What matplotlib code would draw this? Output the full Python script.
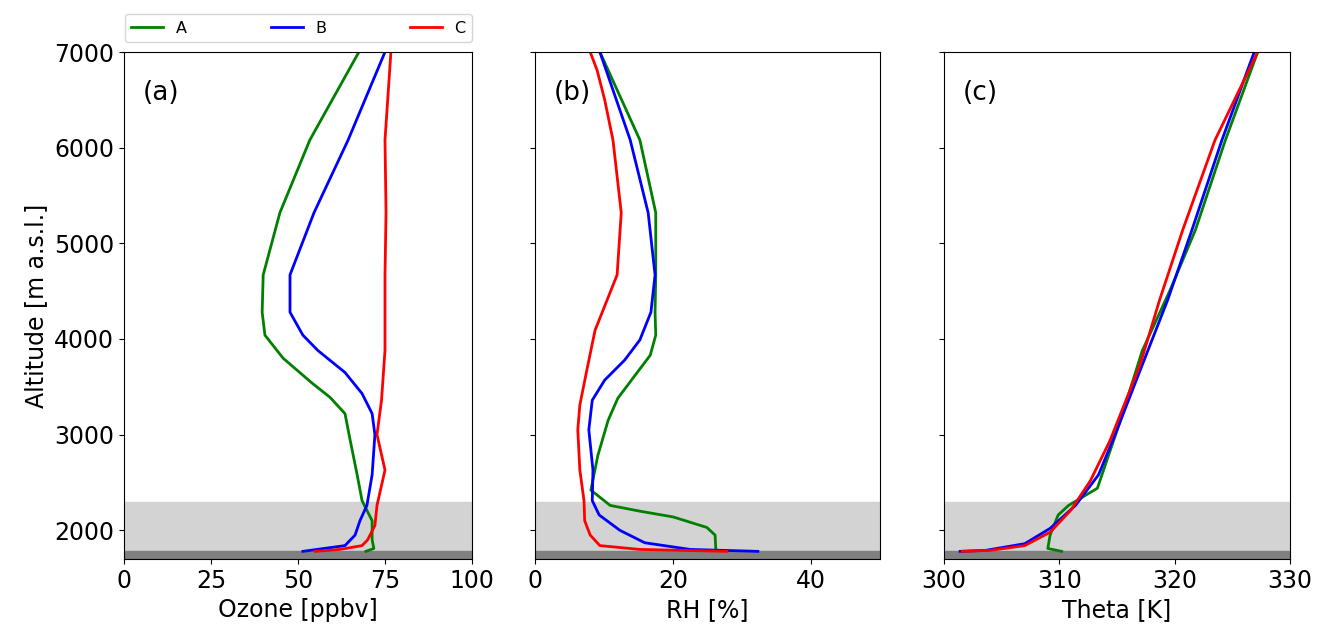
import numpy as np
import matplotlib
matplotlib.use('Agg')
import matplotlib.pyplot as plt

# ── Data ──────────────────────────────────────────────────────────────────────
oz_A_alt = [7000, 6080, 5320, 4670, 4280, 4040, 3800, 3540, 3390, 3220, 2940, 2580, 2310, 2100, 1900, 1810, 1780]
oz_A_val = [67.5, 53.4, 44.8, 40.0, 39.7, 40.5, 45.7, 54.0, 59.2, 63.5, 65.0, 67.0, 68.4, 71.3, 71.3, 71.8, 69.5]
oz_B_alt = [7000, 6080, 5320, 4670, 4280, 4040, 3880, 3650, 3430, 3220, 3000, 2580, 2260, 2100, 1950, 1840, 1780]
oz_B_val = [75.0, 64.4, 54.6, 47.7, 47.7, 51.4, 55.7, 63.5, 68.4, 71.3, 72.1, 71.3, 69.8, 67.8, 66.4, 63.5, 51.4]
oz_C_alt = [7000, 6080, 5320, 4670, 4280, 3880, 3360, 3000, 2630, 2260, 2050, 1900, 1840, 1800, 1780]
oz_C_val = [76.7, 75.0, 75.3, 75.0, 75.0, 75.0, 74.0, 72.7, 75.0, 72.7, 72.1, 70.0, 68.4, 62.0, 55.0]

rh_A_alt = [7000, 6080, 5320, 4670, 4280, 4040, 3830, 3620, 3380, 3150, 2780, 2420, 2260, 2200, 2140, 2030, 1950, 1810, 1790]
rh_A_val = [9.4, 15.2, 17.5, 17.5, 17.4, 17.5, 16.7, 14.5, 12.0, 10.6, 9.1, 8.1, 10.9, 15.2, 20.0, 24.9, 26.1, 26.2, 26.2]
rh_B_alt = [7000, 6080, 5320, 4670, 4280, 3990, 3780, 3570, 3360, 3050, 2630, 2310, 2160, 2000, 1870, 1800, 1780]
rh_B_val = [9.4, 13.8, 16.4, 17.4, 16.8, 15.2, 13.0, 10.1, 8.3, 7.8, 8.4, 8.3, 9.3, 12.3, 15.9, 22.5, 32.3]
rh_C_alt = [7000, 6810, 6500, 6080, 5320, 4670, 4090, 3670, 3310, 3050, 2630, 2310, 2100, 1950, 1840, 1800, 1780]
rh_C_val = [8.0, 9.0, 10.1, 11.3, 12.5, 11.9, 8.7, 7.5, 6.5, 6.2, 6.5, 7.1, 7.2, 8.0, 9.4, 15.2, 27.8]

th_A_alt = [7000, 6080, 5140, 4510, 3880, 3150, 2440, 2260, 2160, 1950, 1810, 1780]
th_A_val = [327.2, 324.4, 321.8, 319.6, 317.2, 315.3, 313.3, 310.8, 309.9, 309.2, 309.0, 310.2]
th_B_alt = [7000, 6080, 5140, 4410, 3670, 3050, 2580, 2260, 2020, 1860, 1790, 1780]
th_B_val = [326.9, 324.1, 321.5, 319.4, 317.0, 315.0, 313.4, 311.4, 309.2, 307.0, 303.6, 301.4]
th_C_alt = [7000, 6080, 5140, 4410, 3730, 2940, 2520, 2210, 1980, 1840, 1790, 1780]
th_C_val = [327.2, 323.5, 320.7, 318.7, 317.0, 314.4, 312.7, 311.0, 309.2, 307.0, 304.0, 301.6]

panels = [
    ('(a)', 'Ozone [ppbv]', (0, 100), [0, 25, 50, 75, 100],
     [(oz_A_val, oz_A_alt), (oz_B_val, oz_B_alt), (oz_C_val, oz_C_alt)]),
    ('(b)', 'RH [%]', (0, 50), [0, 20, 40],
     [(rh_A_val, rh_A_alt), (rh_B_val, rh_B_alt), (rh_C_val, rh_C_alt)]),
    ('(c)', 'Theta [K]', (300, 330), [300, 310, 320, 330],
     [(th_A_val, th_A_alt), (th_B_val, th_B_alt), (th_C_val, th_C_alt)]),
]
labels = ['A', 'B', 'C']
colors = ['green', 'blue', 'red']

# ── Figure ────────────────────────────────────────────────────────────────────
W, H = 1331, 634
fig = plt.figure(figsize=(W / 100, H / 100), dpi=100)
lefts = [124, 535, 944]
rights = [472, 880, 1290]
top, bottom = 52, 559

for i, (tag, xlabel, xlim, xticks, series) in enumerate(panels):
    ax = fig.add_axes([lefts[i] / W, 1 - bottom / H,
                       (rights[i] - lefts[i]) / W, (bottom - top) / H])
    ax.axhspan(1700, 2300, color='lightgray', zorder=0)
    ax.axhspan(1700, 1780, color='gray', zorder=0.5)
    for (x, y), lab, c in zip(series, labels, colors):
        ax.plot(x, y, color=c, lw=2, label=lab, zorder=2)
    ax.set_xlim(*xlim)
    ax.set_ylim(1700, 7000)
    ax.set_xticks(xticks)
    ax.set_yticks(range(2000, 7001, 1000))
    ax.tick_params(labelsize=17)
    ax.set_xlabel(xlabel, fontsize=17)
    ax.text(0.055, 0.92, tag, transform=ax.transAxes, fontsize=19, va='center')
    if i == 0:
        ax.set_ylabel('Altitude [m a.s.l.]', fontsize=17)
        handles, labs = ax.get_legend_handles_labels()
    else:
        ax.set_yticklabels([])

fig.legend(handles, labs, ncol=3, fontsize=11.5, loc='lower left',
           bbox_to_anchor=(125 / W, 1 - 42 / H, (472 - 125) / W, 36 / H),
           mode='expand', borderaxespad=0)

plt.savefig('out.png', dpi=100)
